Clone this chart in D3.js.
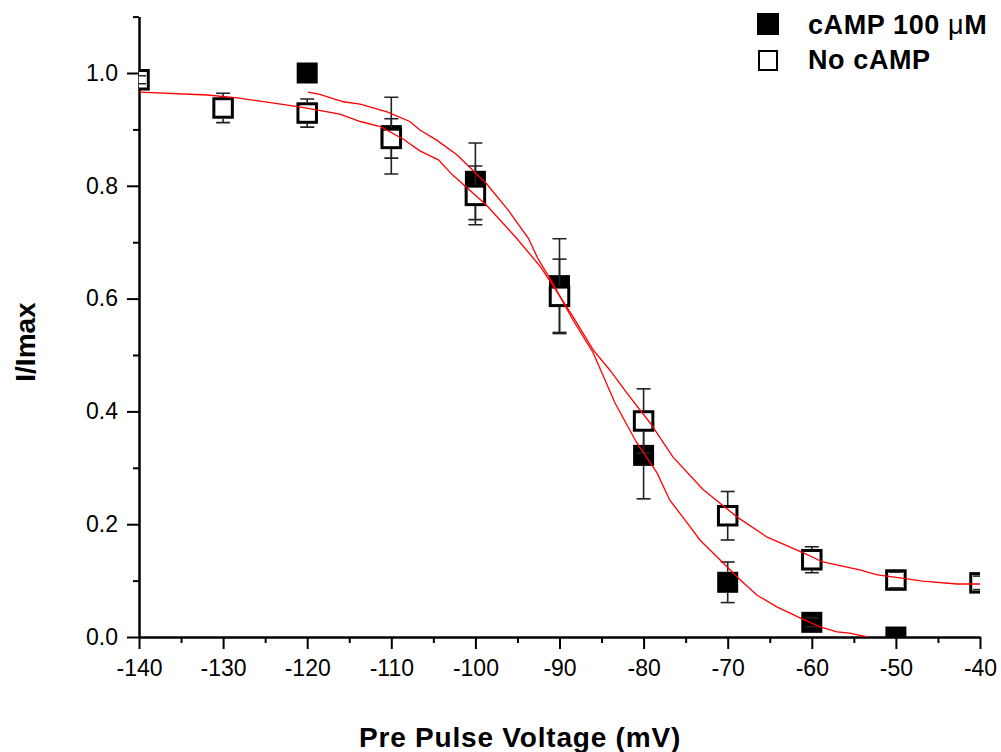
<!DOCTYPE html>
<html>
<head>
<meta charset="utf-8">
<script src="https://cdn.jsdelivr.net/npm/d3@7"></script>
<style>
  body { margin: 0; background: #fff; }
  svg { display: block; font-family: "Liberation Sans", Arial, sans-serif; }
  .axis path, .axis line { stroke: #000; stroke-width: 2px; }
  .axis text { font-size: 23px; fill: #000; }
</style>
</head>
<body>
<svg id="chart" width="1001" height="752"></svg>
<script>
"use strict";

// measured points, cAMP 100 uM (filled squares)
var camp_v = [-120, -110, -100, -90, -80, -70, -60, -50];
var camp_i = [1.0, 0.889, 0.808, 0.623, 0.322, 0.097, 0.026, 0.0];
var camp_err = [0, 0.068, 0.068, 0.083, 0.077, 0.036, 0.008, 0];

// measured points, no cAMP (open squares)
var nocamp_v = [-140, -130, -120, -110, -100, -90, -80, -70, -60, -50, -40];
var nocamp_i = [0.988, 0.938, 0.929, 0.884, 0.783, 0.604, 0.383, 0.215, 0.137, 0.101, 0.096];
var nocamp_err = [0.007, 0.026, 0.025, 0.035, 0.052, 0.066, 0.057, 0.043, 0.023, 0.014, 0.012];

// fitted curves
var camp_fit_v = [-119.9, -118.5, -115.7, -113.7, -110.5, -107.8, -106.6, -104.6, -102.2, -98.7, -96.1,
  -93.7, -92.6, -90.8, -88.4, -86.0, -83.4, -80.8, -78.4, -76.9, -74.8, -73.3, -68.5, -66.5, -64.1,
  -61.4, -59.0, -57.0, -55.5, -53.4];
var camp_fit_i = [0.966, 0.962, 0.949, 0.945, 0.931, 0.914, 0.899, 0.881, 0.855, 0.804, 0.757,
  0.707, 0.672, 0.627, 0.562, 0.504, 0.415, 0.344, 0.291, 0.243, 0.202, 0.172, 0.101, 0.074, 0.053,
  0.034, 0.018, 0.009, 0.007, 0.0];

var nocamp_fit_v = [-139.9, -131.9, -128.3, -125.6, -120.9, -116.1, -113.7, -111.3, -108.6, -106.6,
  -104.4, -102.7, -98.7, -95.1, -92.3, -90.8, -88.4, -86.0, -84.0, -82.0, -79.2, -76.5, -72.9, -68.9,
  -65.3, -61.0, -58.7, -54.3, -52.2, -49.5, -46.8, -42.7, -40];
var nocamp_fit_i = [0.966, 0.961, 0.956, 0.950, 0.940, 0.927, 0.914, 0.905, 0.883, 0.862,
  0.846, 0.819, 0.766, 0.707, 0.657, 0.624, 0.568, 0.509, 0.473, 0.433, 0.379, 0.319, 0.261, 0.213,
  0.177, 0.149, 0.133, 0.119, 0.110, 0.105, 0.099, 0.094, 0.094];

var x_major = [-140, -130, -120, -110, -100, -90, -80, -70, -60, -50, -40];
var x_minor = [-135, -125, -115, -105, -95, -85, -75, -65, -55, -45];
var y_major = [0, 0.2, 0.4, 0.6, 0.8, 1.0];
var y_minor = [0.1, 0.3, 0.5, 0.7, 0.9, 1.1];

var legend_labels = ["cAMP 100 ", "No cAMP"];

var plot_left = 139, plot_right = 980, plot_top = 16.6, plot_bottom = 637,
  box = 21;

var svg = d3.select("#chart");

var x = d3.scaleLinear().domain([-140, -40]).range([plot_left, plot_right]);
var y = d3.scaleLinear().domain([0, 1.1]).range([plot_bottom, plot_top]);

function zip(v, i, e) {
  return v.map(function (d, k) {
    return { v: d, i: i[k], e: e ? e[k] : 0 };
  });
}

svg.append("defs").append("clipPath")
  .attr("id", "plot-clip")
  .append("rect")
  .attr("x", plot_left)
  .attr("y", plot_top)
  .attr("width", plot_right - plot_left)
  .attr("height", plot_bottom - plot_top);

// axes
svg.append("g")
  .attr("class", "axis")
  .attr("transform", "translate(0," + plot_bottom + ")")
  .call(d3.axisBottom(x).tickValues(x_minor).tickSize(6).tickSizeOuter(0).tickFormat(""));

svg.append("g")
  .attr("class", "axis")
  .attr("transform", "translate(0," + plot_bottom + ")")
  .call(d3.axisBottom(x).tickValues(x_major).tickSize(12).tickSizeOuter(0).tickPadding(11)
    .tickFormat(function (d) { return d; }));

svg.append("g")
  .attr("class", "axis")
  .attr("transform", "translate(" + plot_left + ",0)")
  .call(d3.axisLeft(y).tickValues(y_minor).tickSize(6).tickSizeOuter(0).tickFormat(""));

svg.append("g")
  .attr("class", "axis")
  .attr("transform", "translate(" + plot_left + ",0)")
  .call(d3.axisLeft(y).tickValues(y_major).tickSize(12).tickSizeOuter(0).tickPadding(9)
    .tickFormat(d3.format(".1f")));

// axis titles
svg.append("text")
  .attr("x", 520)
  .attr("y", 747)
  .attr("text-anchor", "middle")
  .style("font-size", "28px")
  .style("font-weight", "bold")
  .style("letter-spacing", "0.8px")
  .text("Pre Pulse Voltage (mV)");

svg.append("text")
  .attr("transform", "translate(35,342) rotate(-90)")
  .attr("text-anchor", "middle")
  .style("font-size", "28px")
  .style("font-weight", "bold")
  .text("I/Imax");

var plot = svg.append("g").attr("clip-path", "url(#plot-clip)");

function drawSquares(data, filled) {
  plot.append("g")
    .selectAll("rect")
    .data(data)
    .enter()
    .append("rect")
    .attr("x", function (d) { return x(d.v) - box / 2 + (filled ? 0 : 1.25); })
    .attr("y", function (d) { return y(d.i) - box / 2 + (filled ? 0 : 1.25); })
    .attr("width", filled ? box : box - 2.5)
    .attr("height", filled ? box : box - 2.5)
    .attr("fill", filled ? "#000" : "#fff")
    .attr("stroke", filled ? "none" : "#000")
    .attr("stroke-width", 3);
}

// error bars start at the symbol edge, caps always drawn
function drawErrors(data) {
  var g = plot.append("g")
    .attr("stroke", "#222")
    .attr("stroke-width", 1.6);

  data.filter(function (d) { return d.e > 0; }).forEach(function (d) {
    var cx = x(d.v),
      cy = y(d.i),
      hi = y(d.i + d.e),
      lo = y(d.i - d.e);

    if (hi < cy - box / 2) {
      g.append("line").attr("x1", cx).attr("x2", cx).attr("y1", hi).attr("y2", cy - box / 2);
    }
    if (lo > cy + box / 2) {
      g.append("line").attr("x1", cx).attr("x2", cx).attr("y1", cy + box / 2).attr("y2", lo);
    }
    g.append("line").attr("x1", cx - 7).attr("x2", cx + 7).attr("y1", hi).attr("y2", hi);
    g.append("line").attr("x1", cx - 7).attr("x2", cx + 7).attr("y1", lo).attr("y2", lo);
  });
}

var camp = zip(camp_v, camp_i, camp_err),
  nocamp = zip(nocamp_v, nocamp_i, nocamp_err);

drawSquares(camp, true);
drawErrors(camp);
drawSquares(nocamp, false);
drawErrors(nocamp);

var line = d3.line()
  .x(function (d) { return x(d.v); })
  .y(function (d) { return y(d.i); });

[zip(camp_fit_v, camp_fit_i), zip(nocamp_fit_v, nocamp_fit_i)].forEach(function (fit) {
  plot.append("path")
    .datum(fit)
    .attr("d", line)
    .attr("fill", "none")
    .attr("stroke", "#ff0000")
    .attr("stroke-width", 1.3);
});

// legend
var legend = svg.append("g");

legend.append("rect")
  .attr("x", 757).attr("y", 13)
  .attr("width", 22).attr("height", 22)
  .attr("fill", "#000");

legend.append("rect")
  .attr("x", 759).attr("y", 51)
  .attr("width", 18).attr("height", 19)
  .attr("fill", "#fff")
  .attr("stroke", "#000")
  .attr("stroke-width", 2);

var t1 = legend.append("text")
  .attr("x", 808).attr("y", 34)
  .style("font-size", "27px")
  .style("font-weight", "bold")
  .style("letter-spacing", "0.6px");
t1.append("tspan").text(legend_labels[0]);
t1.append("tspan").style("font-weight", "normal").text("\u03bc");
t1.append("tspan").text("M");

legend.append("text")
  .attr("x", 808).attr("y", 69)
  .style("font-size", "27px")
  .style("font-weight", "bold")
  .style("letter-spacing", "0.6px")
  .text(legend_labels[1]);
</script>
</body>
</html>
